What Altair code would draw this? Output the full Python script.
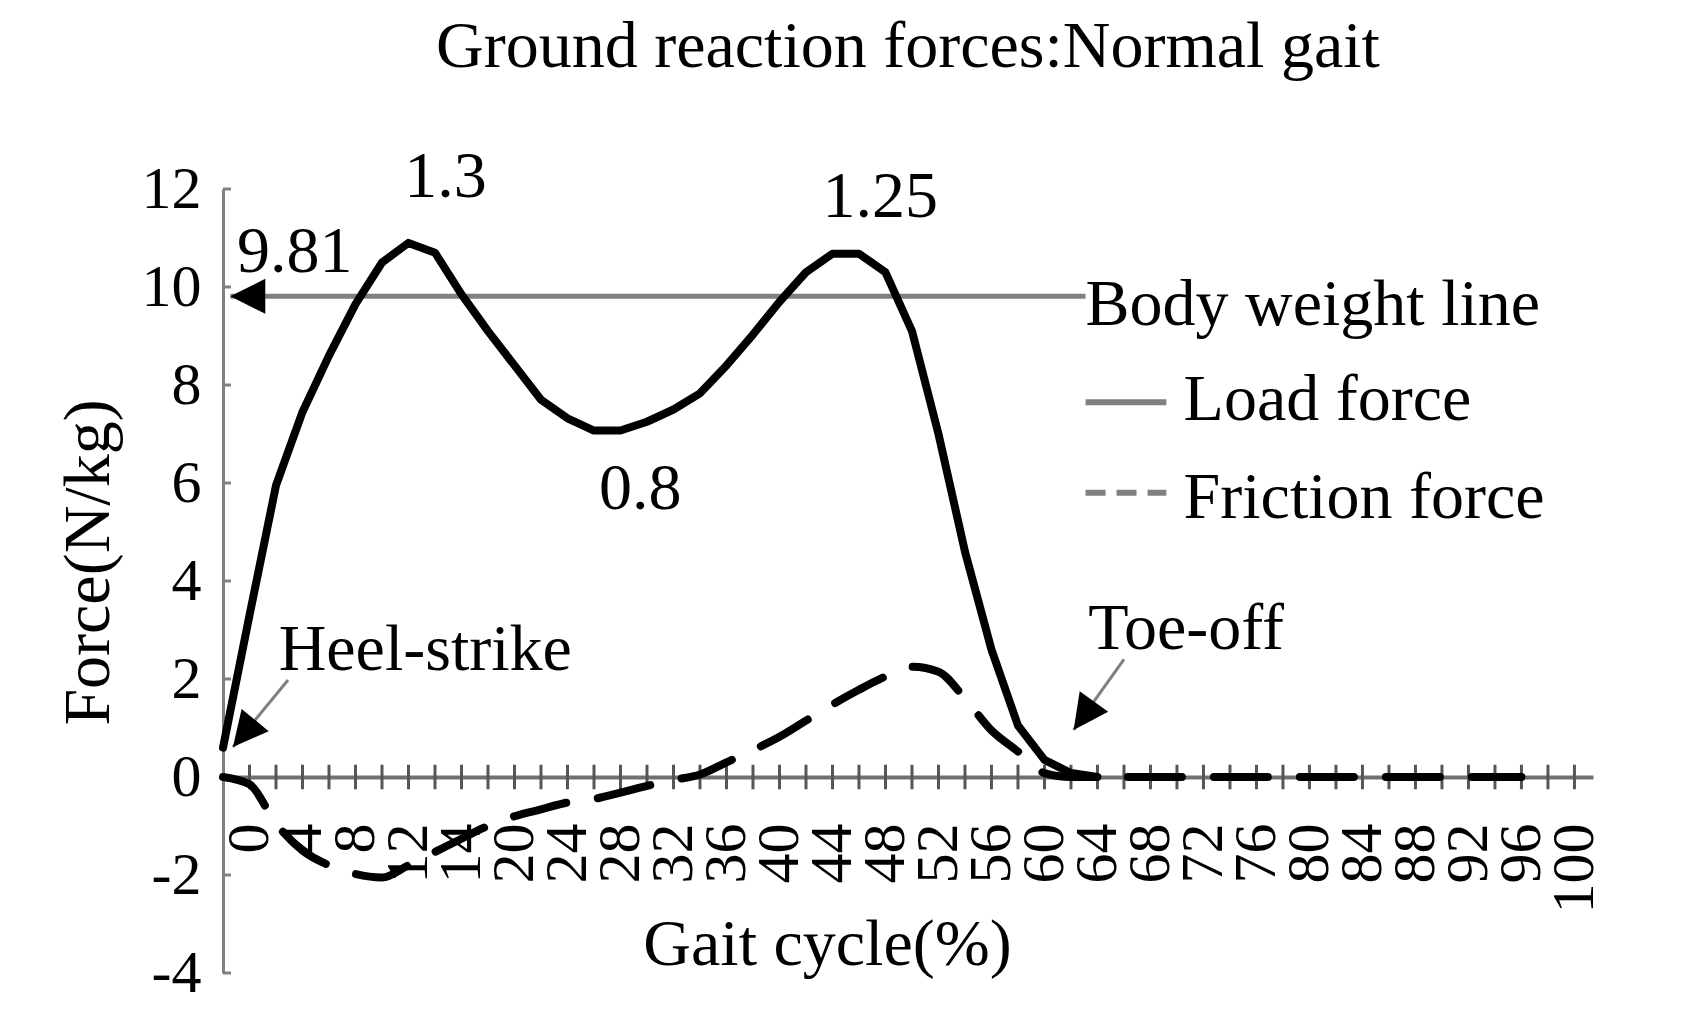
import math
import altair as alt
import pandas as pd

# ---------------- data ----------------
load_x = [-2, 0, 2, 4, 6, 8, 10, 12, 14, 16, 18, 20, 22, 24, 26, 28, 30, 32,
          34, 36, 38, 40, 42, 44, 46, 48, 50, 52, 54, 56, 58, 60, 62, 64]
load_y = [0.6, 3.3, 5.95, 7.45, 8.6, 9.65, 10.5, 10.9, 10.7, 9.85, 9.1, 8.4,
          7.7, 7.32, 7.07, 7.07, 7.25, 7.5, 7.83, 8.4, 9.03, 9.7, 10.3, 10.68,
          10.68, 10.3, 9.1, 7.0, 4.6, 2.6, 1.05, 0.35, 0.08, 0.0]

fric_x = [-2, 0, 2, 4, 6, 8, 10, 12, 14, 16, 18, 20, 22, 24, 26, 28, 30, 32,
          34, 36, 38, 40, 42, 44, 46, 48, 50, 52, 54, 56, 58, 60, 62, 64, 66,
          68, 70, 72, 74, 76, 78, 80, 82, 84, 86, 88, 90, 92, 94, 96]
fric_y = [0.0, -0.15, -0.95, -1.5, -1.8, -1.98, -2.05, -1.8, -1.53, -1.26,
          -1.0, -0.8, -0.66, -0.52, -0.45, -0.32, -0.18, -0.06, 0.05, 0.3,
          0.55, 0.82, 1.15, 1.48, 1.78, 2.05, 2.25, 2.15, 1.6, 0.95, 0.52,
          0.08, 0.0, 0.0, 0.0, 0.0, 0.0, 0.0, 0.0, 0.0, 0.0, 0.0, 0.0, 0.0,
          0.0, 0.0, 0.0, 0.0, 0.0, 0.0]

body_weight = 9.81

x_tick_vals = list(range(0, 101, 2))
x_label_vals = list(range(0, 101, 4))
x_label_text = ["0", "4", "8", "12", "14", "20", "24", "28", "32", "36", "40",
                "44", "48", "52", "56", "60", "64", "68", "72", "76", "80",
                "84", "88", "92", "96", "100"]
y_tick_vals = [-4, -2, 0, 2, 4, 6, 8, 10, 12]

# annotations (data coordinates)
center_text = ["1.3", "1.25", "0.8"]
center_x = [14.8, 47.6, 29.5]
center_y = [11.84, 11.43, 5.47]

left_text = ["9.81", "Heel-strike", "Toe-off", "Body weight line",
             "Load force", "Friction force"]
left_x = [-0.94, 2.2, 63.3, 63.1, 70.5, 70.5]
left_y = [10.31, 2.18, 2.62, 9.22, 7.29, 5.29]

arrow_start_x = [2.91, 66.0]
arrow_start_y = [1.98, 2.40]
arrow_tip_x = [-1.25, 62.2]
arrow_tip_y = [0.61, 0.96]

bw_line_x = [-1.45, 63.1]
legend_line_x = [63.1, 69.2]
legend_line_y = [7.65, 5.8]

# ---------------- layout ----------------
W, H = 1370, 784
XMIN, XMAX = -2, 101.4
YMIN, YMAX = -4, 12
PX_X = W / (XMAX - XMIN)
PX_Y = H / (YMAX - YMIN)
FONT = "Liberation Serif"
GREY = "#808080"

xs = alt.Scale(domain=[XMIN, XMAX], nice=False, zero=False)
ys = alt.Scale(domain=[YMIN, YMAX], nice=False, zero=False)

label_expr = ("[" + ",".join("'%s'" % s for s in x_label_text) + "][indexof(["
              + ",".join(str(v) for v in x_label_vals) + "], datum.value)]")

y0_px = H * (YMAX - 0) / (YMAX - YMIN)

x_axis = alt.Axis(
    orient="bottom", offset=-(H - y0_px), values=x_label_vals,
    labelExpr=label_expr, labelAngle=270, labelFontSize=60, labelFont=FONT,
    labelColor="black", labelPadding=46, labelOverlap=False, labelFlush=False,
    ticks=False, tickSize=0, domainColor="#707070", domainWidth=4, grid=False,
    title="Gait cycle(%)", titleFont=FONT, titleFontSize=66,
    titleFontWeight="normal", titleColor="black", titleX=604, titleY=187,
    titleAlign="center", titleBaseline="alphabetic")

y_axis = alt.Axis(
    values=y_tick_vals, labelExpr="'' + datum.value", labelFontSize=60,
    labelFont=FONT, labelColor="black", labelPadding=22, ticks=False,
    tickSize=0, domainColor=GREY, domainWidth=3, grid=False,
    title="Force(N/kg)", titleFont=FONT, titleFontSize=66,
    titleFontWeight="normal", titleColor="black", titleAngle=270,
    titleX=-115, titleY=373, titleAlign="center", titleBaseline="alphabetic")


def X(field):
    return alt.X(field, scale=xs, axis=x_axis)


def Y(field):
    return alt.Y(field, scale=ys, axis=y_axis)


load_df = pd.DataFrame({"x": load_x, "y": load_y})
fric_df = pd.DataFrame({"x": fric_x, "y": fric_y})

load = alt.Chart(load_df).mark_line(
    color="black", strokeWidth=8, strokeJoin="round", strokeCap="round"
).encode(x=X("x:Q"), y=Y("y:Q"))

fric = alt.Chart(fric_df).mark_line(
    color="black", strokeWidth=8, strokeDash=[54, 32], strokeCap="round",
    interpolate="monotone"
).encode(x=X("x:Q"), y=Y("y:Q"))

xt = alt.Chart(pd.DataFrame({"x": x_tick_vals})).mark_rule(
    color="#555555", strokeWidth=3
).encode(x=X("x:Q"), y=alt.YDatum(-0.25, scale=ys, axis=y_axis),
         y2=alt.Y2Datum(0.25))

yt = alt.Chart(pd.DataFrame({"v": y_tick_vals})).mark_rule(
    color=GREY, strokeWidth=3
).encode(x=alt.XDatum(XMIN, scale=xs, axis=x_axis),
         x2=alt.X2Datum(XMIN + 8 / PX_X), y=Y("v:Q"))

bw = alt.Chart(pd.DataFrame({"v": [body_weight]})).mark_rule(
    color=GREY, strokeWidth=5
).encode(x=alt.XDatum(bw_line_x[0], scale=xs, axis=x_axis),
         x2=alt.X2Datum(bw_line_x[1]), y=Y("v:Q"))

arr_df = pd.DataFrame({"sx": arrow_start_x, "sy": arrow_start_y,
                       "tx": arrow_tip_x, "ty": arrow_tip_y})
arrows = alt.Chart(arr_df).mark_rule(color=GREY, strokeWidth=3).encode(
    x=X("sx:Q"), y=Y("sy:Q"), x2="tx:Q", y2="ty:Q")

angles = []
for sx, sy, tx, ty in zip(arrow_start_x, arrow_start_y, arrow_tip_x, arrow_tip_y):
    dx = (tx - sx) * PX_X
    dy = -(ty - sy) * PX_Y
    angles.append(math.degrees(math.atan2(dx, -dy)) % 360)
head_df = pd.DataFrame({"x": arrow_tip_x + [bw_line_x[0]],
                        "y": arrow_tip_y + [body_weight],
                        "a": angles + [270]})
TRI = "M0,0L0.5,1L-0.5,1Z"
heads = alt.Chart(head_df).mark_point(
    shape=TRI, size=4900, filled=True, color="black", opacity=1, strokeWidth=0
).encode(x=X("x:Q"), y=Y("y:Q"), angle=alt.Angle("a:Q", scale=None))

leg_load = alt.Chart(pd.DataFrame({"v": [legend_line_y[0]]})).mark_rule(
    color=GREY, strokeWidth=6
).encode(x=alt.XDatum(legend_line_x[0], scale=xs, axis=x_axis),
         x2=alt.X2Datum(legend_line_x[1]), y=Y("v:Q"))
leg_fric = alt.Chart(pd.DataFrame({"v": [legend_line_y[1]]})).mark_rule(
    color=GREY, strokeWidth=6, strokeDash=[20, 11]
).encode(x=alt.XDatum(legend_line_x[0], scale=xs, axis=x_axis),
         x2=alt.X2Datum(legend_line_x[1]), y=Y("v:Q"))

ctext = alt.Chart(pd.DataFrame({"t": center_text, "x": center_x, "y": center_y})
                  ).mark_text(font=FONT, fontSize=66, color="black",
                              align="center", baseline="alphabetic").encode(
    x=X("x:Q"), y=Y("y:Q"), text="t:N")
ltext = alt.Chart(pd.DataFrame({"t": left_text, "x": left_x, "y": left_y})
                  ).mark_text(font=FONT, fontSize=66, color="black",
                              align="left", baseline="alphabetic").encode(
    x=X("x:Q"), y=Y("y:Q"), text="t:N")

chart = alt.layer(
    xt, yt, bw, arrows, heads, leg_load, leg_fric, fric, load, ctext, ltext
).properties(
    width=W, height=H, background="white",
    title=alt.TitleParams("Ground reaction forces:Normal gait", font=FONT,
                          fontSize=66, fontWeight="normal", color="black",
                          anchor="middle", frame="group", offset=63),
    autosize=alt.AutoSizeParams(type="none"),
    padding={"left": 215, "top": 181, "right": 100, "bottom": 42},
).configure_view(strokeWidth=0, stroke="transparent")

chart.save("out.html", embed_options={"renderer": "svg", "actions": False})
